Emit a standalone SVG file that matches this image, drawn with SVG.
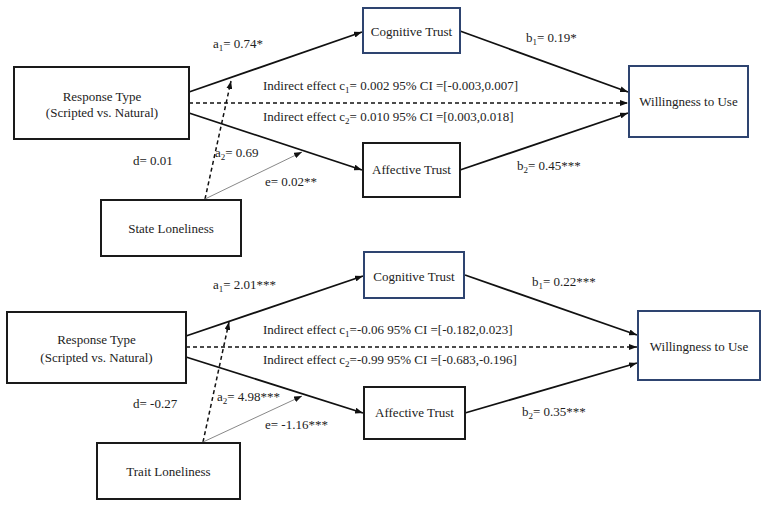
<svg xmlns="http://www.w3.org/2000/svg" width="767" height="507" viewBox="0 0 767 507" font-family="'Liberation Serif', 'Times New Roman', Times, serif">
  <defs>
    <style>
      .box { fill: #ffffff; stroke: #1a1a1a; stroke-width: 2; }
      .box.blue { stroke: #2e4470; }
      text { font-family: 'Liberation Serif', 'Times New Roman', Times, serif; font-size: 13px; fill: #222222; }
      .mid { text-anchor: middle; }
      .path { fill: none; stroke: #111111; stroke-width: 1.8; }
      .dash { fill: none; stroke: #111111; stroke-width: 1.5; stroke-dasharray: 4 3; }
      .thin { fill: none; stroke: #7a7a7a; stroke-width: 0.9; }
      .sub { font-size: 9px; }
    </style>
    <marker id="arrow" viewBox="0 0 8 6" refX="8" refY="3" markerWidth="8" markerHeight="6" markerUnits="userSpaceOnUse" orient="auto">
      <path d="M0,0 L8,3 L0,6 z" fill="#111111"/>
    </marker>
  </defs>

  <!-- ===== Model 1: state loneliness ===== -->
  <g id="connectors-top">
    <line class="path" x1="189" y1="92" x2="362" y2="32" marker-end="url(#arrow)"/>
    <line class="path" x1="189" y1="113" x2="362" y2="170" marker-end="url(#arrow)"/>
    <line class="dash" x1="189" y1="103" x2="628" y2="103" marker-end="url(#arrow)"/>
    <line class="path" x1="460" y1="31" x2="628" y2="92" marker-end="url(#arrow)"/>
    <line class="path" x1="460" y1="170" x2="628" y2="113" marker-end="url(#arrow)"/>
    <line class="dash" x1="205" y1="199" x2="231" y2="81" marker-end="url(#arrow)"/>
    <line class="thin" x1="205" y1="199" x2="302" y2="152" marker-end="url(#arrow)"/>
  </g>

  <g id="response-type-1">
    <rect class="box" x="14" y="67" width="175" height="72"/>
    <text class="mid" x="102" y="101">Response Type</text>
    <text class="mid" x="102" y="117">(Scripted vs. Natural)</text>
  </g>
  <g id="cognitive-trust-1">
    <rect class="box blue" x="363" y="8" width="97" height="45"/>
    <text class="mid" x="411.5" y="36">Cognitive Trust</text>
  </g>
  <g id="affective-trust-1">
    <rect class="box" x="363" y="143" width="97" height="54"/>
    <text class="mid" x="411.5" y="174">Affective Trust</text>
  </g>
  <g id="willingness-1">
    <rect class="box blue" x="629" y="66" width="119" height="71"/>
    <text class="mid" x="688.5" y="106">Willingness to Use</text>
  </g>
  <g id="state-loneliness">
    <rect class="box" x="101" y="200" width="140" height="56"/>
    <text class="mid" x="171" y="233">State Loneliness</text>
  </g>

  <g id="labels-top">
    <text x="213" y="48">a<tspan class="sub" dy="3">1</tspan><tspan dy="-3">= 0.74*</tspan></text>
    <text x="263" y="90">Indirect effect c<tspan class="sub" dy="3">1</tspan><tspan dy="-3">= 0.002 95% CI =[-0.003,0.007]</tspan></text>
    <text x="263" y="121">Indirect effect c<tspan class="sub" dy="3">2</tspan><tspan dy="-3">= 0.010 95% CI =[0.003,0.018]</tspan></text>
    <text x="133" y="165">d= 0.01</text>
    <text x="215" y="157">a<tspan class="sub" dy="3">2</tspan><tspan dy="-3">= 0.69</tspan></text>
    <text x="265" y="186">e= 0.02**</text>
    <text x="526" y="42">b<tspan class="sub" dy="3">1</tspan><tspan dy="-3">= 0.19*</tspan></text>
    <text x="517" y="170">b<tspan class="sub" dy="3">2</tspan><tspan dy="-3">= 0.45***</tspan></text>
  </g>

  <!-- ===== Model 2: trait loneliness ===== -->
  <g id="connectors-bottom">
    <line class="path" x1="186" y1="336" x2="363" y2="276" marker-end="url(#arrow)"/>
    <line class="path" x1="186" y1="357" x2="363" y2="413" marker-end="url(#arrow)"/>
    <line class="dash" x1="186" y1="347" x2="637" y2="347" marker-end="url(#arrow)"/>
    <line class="path" x1="465" y1="275" x2="637" y2="335" marker-end="url(#arrow)"/>
    <line class="path" x1="465" y1="413" x2="637" y2="363" marker-end="url(#arrow)"/>
    <line class="dash" x1="203" y1="442" x2="229" y2="322" marker-end="url(#arrow)"/>
    <line class="thin" x1="203" y1="442" x2="302" y2="396" marker-end="url(#arrow)"/>
  </g>

  <g id="response-type-2">
    <rect class="box" x="7" y="312" width="179" height="71"/>
    <text class="mid" x="96.5" y="344">Response Type</text>
    <text class="mid" x="96.5" y="362">(Scripted vs. Natural)</text>
  </g>
  <g id="cognitive-trust-2">
    <rect class="box blue" x="364" y="252" width="100" height="46"/>
    <text class="mid" x="414" y="281">Cognitive Trust</text>
  </g>
  <g id="affective-trust-2">
    <rect class="box" x="364" y="387" width="101" height="52"/>
    <text class="mid" x="414.5" y="417">Affective Trust</text>
  </g>
  <g id="willingness-2">
    <rect class="box blue" x="638" y="311" width="122" height="69"/>
    <text class="mid" x="699" y="351">Willingness to Use</text>
  </g>
  <g id="trait-loneliness">
    <rect class="box" x="97" y="443" width="143" height="56"/>
    <text class="mid" x="168.5" y="476">Trait Loneliness</text>
  </g>

  <g id="labels-bottom">
    <text x="213" y="289">a<tspan class="sub" dy="3">1</tspan><tspan dy="-3">= 2.01***</tspan></text>
    <text x="263" y="334">Indirect effect c<tspan class="sub" dy="3">1</tspan><tspan dy="-3">=-0.06 95% CI =[-0.182,0.023]</tspan></text>
    <text x="263" y="364">Indirect effect c<tspan class="sub" dy="3">2</tspan><tspan dy="-3">=-0.99 95% CI =[-0.683,-0.196]</tspan></text>
    <text x="133" y="408">d= -0.27</text>
    <text x="217" y="401">a<tspan class="sub" dy="3">2</tspan><tspan dy="-3">= 4.98***</tspan></text>
    <text x="265" y="429">e= -1.16***</text>
    <text x="532" y="286">b<tspan class="sub" dy="3">1</tspan><tspan dy="-3">= 0.22***</tspan></text>
    <text x="522" y="416">b<tspan class="sub" dy="3">2</tspan><tspan dy="-3">= 0.35***</tspan></text>
  </g>
</svg>
